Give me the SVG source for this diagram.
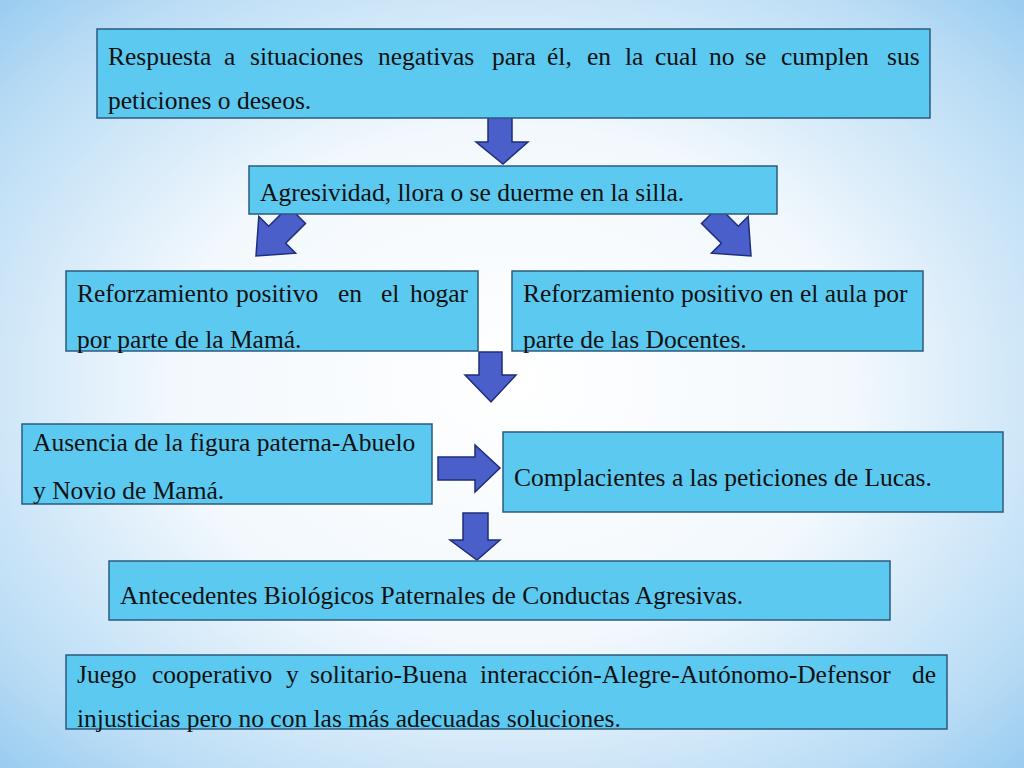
<svg xmlns="http://www.w3.org/2000/svg" width="1024" height="768" viewBox="0 0 1024 768">
<defs>
<radialGradient id="bg" cx="0.5" cy="0.5" r="0.75">
<stop offset="0" stop-color="#ffffff"/><stop offset="0.45" stop-color="#f2f8fd"/><stop offset="0.8" stop-color="#b9dcf5"/><stop offset="1" stop-color="#8cc6ef"/>
</radialGradient>
</defs>
<style>
.b{fill:#5bc9f0;stroke:#2d5a7d;stroke-width:1.5}
.a{fill:#4a5fc9;stroke:#1e2e78;stroke-width:1.5;stroke-linejoin:miter}
text{font-family:"Liberation Serif","Times New Roman",serif;font-size:25.5px;fill:#111}
</style>
<rect width="1024" height="768" fill="url(#bg)"/>
<g id="connectors">
<polygon class="a" points="488,116 512,116 512,142 528,142 503,164 476,142 488,142"/>
<polygon class="a" transform="rotate(45 297 215)" points="285,215 309,215 309,243 323,243 297,273 271,243 285,243"/>
<polygon class="a" transform="rotate(-45 710 215)" points="698,215 722,215 722,243 736,243 710,273 684,243 698,243"/>
<polygon class="a" points="479,352 502,352 502,375 516,375 491,402 465,375 479,375"/>
<polygon class="a" points="438,457 475,457 475,445 500,468 475,492 475,480 438,480"/>
<polygon class="a" points="463,513 488,513 488,540 500,540 477,560 450,540 463,540"/>
</g>
<g id="n1"><rect class="b" x="97" y="29" width="833" height="89"/>
<text y="65"><tspan x="108">Respuesta</tspan><tspan x="224">a</tspan><tspan x="250">situaciones</tspan><tspan x="378">negativas</tspan><tspan x="492">para</tspan><tspan x="547">él,</tspan><tspan x="587">en</tspan><tspan x="625">la</tspan><tspan x="655">cual</tspan><tspan x="709">no</tspan><tspan x="745">se</tspan><tspan x="781">cumplen</tspan><tspan x="887">sus</tspan></text>
<text x="108" y="109">peticiones o deseos.</text></g>
<g id="n2"><rect class="b" x="249" y="166" width="528" height="48"/>
<text x="260" y="201">Agresividad, llora o se duerme en la silla.</text></g>
<g id="n3"><rect class="b" x="66" y="271" width="412" height="80"/>
<text y="302"><tspan x="77">Reforzamiento</tspan><tspan x="236">positivo</tspan><tspan x="338">en</tspan><tspan x="381">el</tspan><tspan x="410">hogar</tspan></text>
<text x="77" y="348">por parte de la Mamá.</text></g>
<g id="n4"><rect class="b" x="512" y="271" width="411" height="80"/>
<text x="523" y="302">Reforzamiento positivo en el aula por</text>
<text x="523" y="348">parte de las Docentes.</text></g>
<g id="n5"><rect class="b" x="22" y="424" width="410" height="80"/>
<text x="33" y="451">Ausencia de la figura paterna-Abuelo</text>
<text x="33" y="499">y Novio de Mamá.</text></g>
<g id="n6"><rect class="b" x="503" y="432" width="500" height="80"/>
<text x="514" y="486">Complacientes a las peticiones de Lucas.</text></g>
<g id="n7"><rect class="b" x="109" y="561" width="781" height="59"/>
<text x="120" y="604">Antecedentes Biológicos Paternales de Conductas Agresivas.</text></g>
<g id="n8"><rect class="b" x="66" y="655" width="881" height="74"/>
<text y="683"><tspan x="77">Juego</tspan><tspan x="152">cooperativo</tspan><tspan x="286">y</tspan><tspan x="310">solitario-Buena</tspan><tspan x="480">interacción-Alegre-Autónomo-Defensor</tspan><tspan x="912">de</tspan></text>
<text x="77" y="727">injusticias pero no con las más adecuadas soluciones.</text></g>
</svg>
